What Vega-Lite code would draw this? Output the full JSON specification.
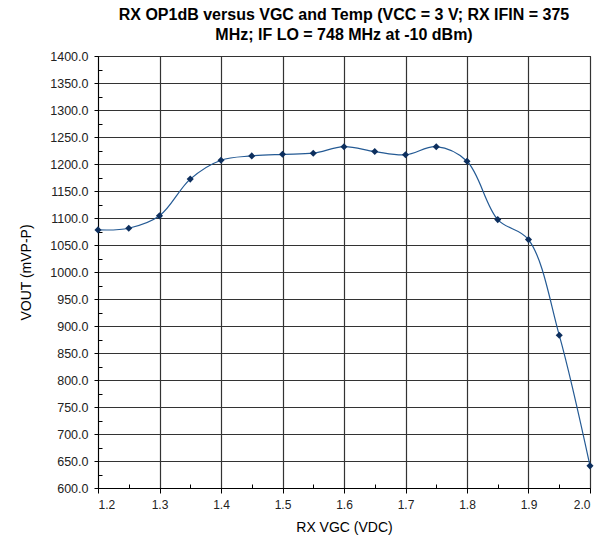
{
  "$schema": "https://vega.github.io/schema/vega-lite/v6.json",
  "autosize": "none",
  "padding": {"left": 98, "top": 56, "right": 21, "bottom": 58},
  "width": 492,
  "height": 432,
  "background": "white",
  "config": {
    "font": "Liberation Sans",
    "view": {"stroke": "black", "strokeWidth": 1}
  },
  "title": {
    "text": ["RX OP1dB versus VGC and Temp (VCC = 3 V; RX IFIN = 375", "MHz; IF LO = 748 MHz at -10 dBm)"],
    "font": "Liberation Sans",
    "fontSize": 16,
    "fontWeight": "bold",
    "color": "black",
    "anchor": "middle",
    "offset": 7,
    "lineHeight": 20
  },
  "data": {
    "values": [
      {"vgc": 1.2, "vout": 1078},
      {"vgc": 1.25, "vout": 1081},
      {"vgc": 1.3, "vout": 1104},
      {"vgc": 1.35, "vout": 1172},
      {"vgc": 1.4, "vout": 1207},
      {"vgc": 1.45, "vout": 1215},
      {"vgc": 1.5, "vout": 1218},
      {"vgc": 1.55, "vout": 1220},
      {"vgc": 1.6, "vout": 1232},
      {"vgc": 1.65, "vout": 1223},
      {"vgc": 1.7, "vout": 1217},
      {"vgc": 1.75, "vout": 1232},
      {"vgc": 1.8, "vout": 1205},
      {"vgc": 1.85, "vout": 1097},
      {"vgc": 1.9, "vout": 1060},
      {"vgc": 1.95, "vout": 883},
      {"vgc": 2.0, "vout": 641}
    ]
  },
  "encoding": {
    "x": {
      "field": "vgc", "type": "quantitative",
      "scale": {"domain": [1.2, 2.0], "nice": false, "zero": false},
      "axis": {
        "title": "RX VGC (VDC)",
        "titleFont": "Liberation Sans", "titleFontSize": 14, "titleFontWeight": "normal", "titleColor": "black", "titlePadding": 10,
        "values": [1.2, 1.25, 1.3, 1.35, 1.4, 1.45, 1.5, 1.55, 1.6, 1.65, 1.7, 1.75, 1.8, 1.85, 1.9, 1.95, 2.0],
        "labelExpr": "round(datum.value*100) % 10 == 0 ? format(datum.value, '.1f') : ''",
        "labelFontSize": 12, "labelColor": "#222", "labelPadding": 6,
        "domainColor": "black",
        "tickColor": "black",
        "tickSize": {"condition": {"test": "round(datum.value*100) % 10 != 0", "value": -4}, "value": 5},
        "gridColor": "#333",
        "gridOpacity": {"condition": {"test": "round(datum.value*100) % 10 != 0", "value": 0}, "value": 1},
        "gridWidth": 1.2
      }
    },
    "y": {
      "field": "vout", "type": "quantitative",
      "scale": {"domain": [600, 1400], "nice": false, "zero": false},
      "axis": {
        "title": "VOUT (mVP-P)",
        "titleFont": "Liberation Sans", "titleFontSize": 14, "titleFontWeight": "normal", "titleColor": "black", "titlePadding": 16,
        "values": [600, 625, 650, 675, 700, 725, 750, 775, 800, 825, 850, 875, 900, 925, 950, 975, 1000, 1025, 1050, 1075, 1100, 1125, 1150, 1175, 1200, 1225, 1250, 1275, 1300, 1325, 1350, 1375, 1400],
        "labelExpr": "datum.value % 50 == 0 ? format(datum.value, '.1f') : ''",
        "labelFontSize": 12.5, "labelColor": "#222", "labelPadding": 6,
        "domainColor": "black",
        "tickColor": "black",
        "tickSize": {"condition": {"test": "datum.value % 50 != 0", "value": -4}, "value": 4},
        "gridColor": "#333",
        "gridOpacity": {"condition": {"test": "datum.value % 50 != 0", "value": 0}, "value": 1},
        "gridWidth": 1.2
      }
    }
  },
  "layer": [
    {"mark": {"type": "line", "interpolate": "catmull-rom", "color": "#245a94", "strokeWidth": 1.2}},
    {"mark": {"type": "point", "shape": "diamond", "filled": true, "color": "#0d2f5e", "opacity": 1, "size": 50}}
  ]
}
